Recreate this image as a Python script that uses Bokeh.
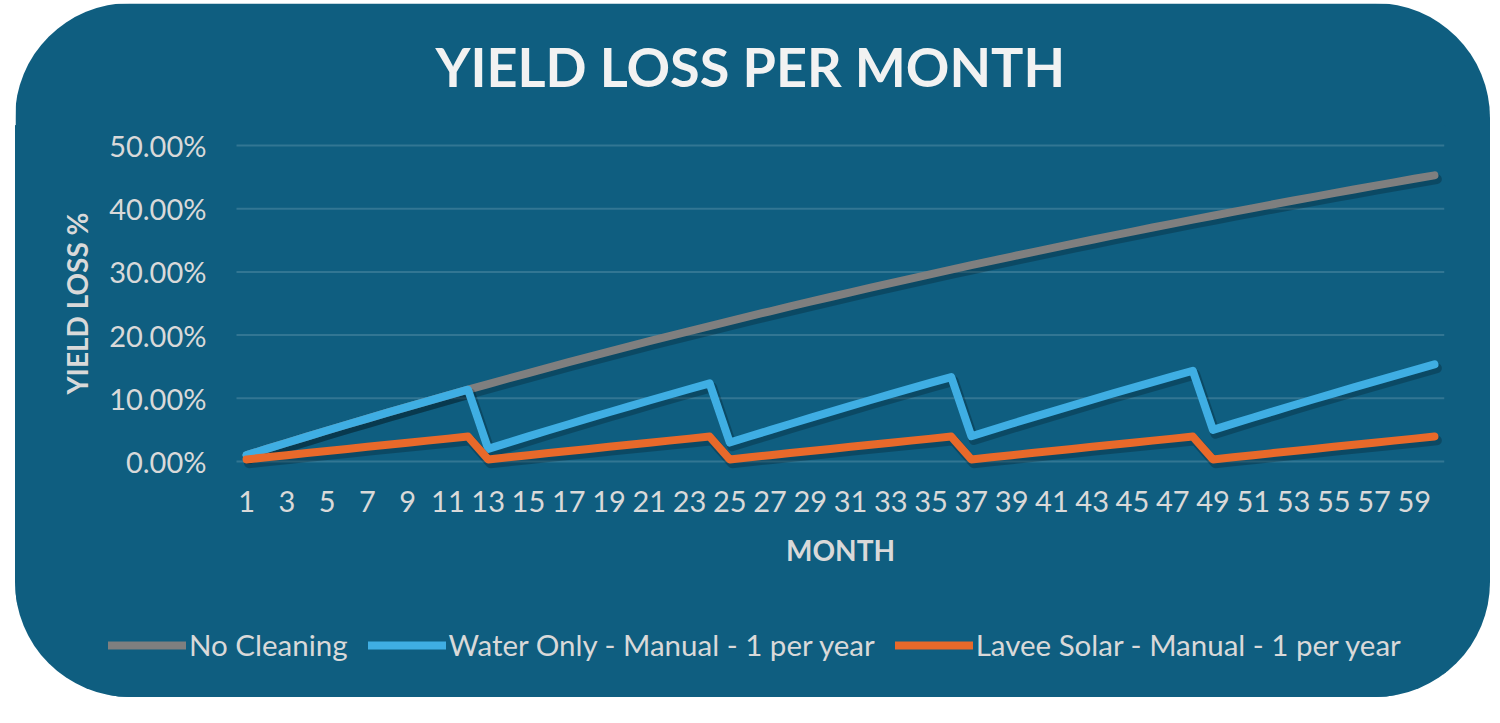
from bokeh.plotting import figure
from bokeh.models import (ColumnDataSource, FixedTicker, PrintfTickFormatter, Legend,
                          LegendItem, Title, Range1d)
from bokeh.embed import file_html
from bokeh.resources import INLINE

months = list(range(1, 61))
x_tick_labels = list(range(1, 61, 2))
y_ticks = [0, 10, 20, 30, 40, 50]

no_cleaning = [1.00, 1.99, 2.97, 3.94, 4.90, 5.85, 6.79, 7.73, 8.65, 9.56, 10.47, 11.36,
               12.25, 13.13, 13.99, 14.85, 15.71, 16.55, 17.38, 18.21, 19.03, 19.84, 20.64, 21.43,
               22.22, 23.00, 23.77, 24.53, 25.28, 26.03, 26.77, 27.50, 28.23, 28.94, 29.66, 30.36,
               31.06, 31.74, 32.43, 33.10, 33.77, 34.43, 35.09, 35.74, 36.38, 37.02, 37.65, 38.27,
               38.89, 39.50, 40.10, 40.70, 41.30, 41.88, 42.46, 43.04, 43.61, 44.17, 44.73, 45.28]

water_only = [1.00, 1.99, 2.97, 3.94, 4.90, 5.85, 6.79, 7.73, 8.65, 9.56, 10.47, 11.36,
              2.00, 2.99, 3.97, 4.94, 5.90, 6.85, 7.79, 8.73, 9.65, 10.56, 11.47, 12.36,
              3.00, 3.99, 4.97, 5.94, 6.90, 7.85, 8.79, 9.73, 10.65, 11.56, 12.47, 13.36,
              4.00, 4.99, 5.97, 6.94, 7.90, 8.85, 9.79, 10.73, 11.65, 12.56, 13.47, 14.36,
              5.00, 5.99, 6.97, 7.94, 8.90, 9.85, 10.79, 11.73, 12.65, 13.56, 14.47, 15.36]

lavee_solar = [0.33, 0.67, 1.00, 1.33, 1.66, 1.99, 2.32, 2.65, 2.97, 3.30, 3.62, 3.95,
               0.33, 0.67, 1.00, 1.33, 1.66, 1.99, 2.32, 2.65, 2.97, 3.30, 3.62, 3.95,
               0.33, 0.67, 1.00, 1.33, 1.66, 1.99, 2.32, 2.65, 2.97, 3.30, 3.62, 3.95,
               0.33, 0.67, 1.00, 1.33, 1.66, 1.99, 2.32, 2.65, 2.97, 3.30, 3.62, 3.95,
               0.33, 0.67, 1.00, 1.33, 1.66, 1.99, 2.32, 2.65, 2.97, 3.30, 3.62, 3.95]

series_names = ["No Cleaning", "Water Only - Manual - 1 per year", "Lavee Solar - Manual - 1 per year"]
series_colors = ["#7F7F7F", "#3FAEE3", "#E8692A"]

BG = "#0F5E80"
TXT = "#D9D9D9"
FONT = "Lato"

# layout (pixels inside the rounded card)
W, H = 1475, 694
TOP, RIGHT = 123, 46     # frame top / right border
PLOT_LEFT = 221          # where month 0.5 sits
PLOT_TOP = 142           # where 50 % sits
PLOT_H = 316             # pixels for 0 .. 50 %
x_lo, x_hi = months[0] - 0.5, months[-1] + 0.5
px_x = (W - RIGHT - PLOT_LEFT) / (x_hi - x_lo)
px_y = PLOT_H / (y_ticks[-1] - y_ticks[0])
y_top = y_ticks[-1] + (PLOT_TOP - TOP) / px_y
y_bot = y_ticks[0] - (H - PLOT_TOP - PLOT_H) / px_y

p = figure(width=W, height=H, output_backend="svg", toolbar_location=None,
           x_range=Range1d(x_lo - PLOT_LEFT / px_x, x_hi), y_range=Range1d(y_bot, y_top),
           min_border_left=0, min_border_right=RIGHT, min_border_top=TOP, min_border_bottom=0,
           background_fill_color=BG, border_fill_color=BG,
           outline_line_color=BG, outline_line_width=3)
p.styles = {"border-radius": "115px", "overflow": "hidden", "transform": "translate(15px, 3px)"}

p.title = Title(text="YIELD LOSS PER MONTH", align="left", offset=420, standoff=56,
                text_color="#F2F2F2", text_font=FONT, text_font_style="bold",
                text_font_size="54px")

p.xaxis.ticker = FixedTicker(ticks=x_tick_labels)
p.yaxis.ticker = FixedTicker(ticks=y_ticks)
p.yaxis.formatter = PrintfTickFormatter(format="%.2f%%")
p.xaxis.fixed_location = y_ticks[0]
p.yaxis.fixed_location = x_lo
p.xaxis.bounds = (x_lo, x_hi)
p.yaxis.bounds = (y_ticks[0], y_ticks[-1])
for ax in (p.xaxis[0], p.yaxis[0]):
    ax.axis_line_color = None
    ax.major_tick_line_color = None
    ax.minor_tick_line_color = None
    ax.major_tick_out = 0
    ax.major_tick_in = 0
    ax.major_label_text_color = TXT
    ax.major_label_text_font = FONT
    ax.major_label_text_font_size = "29px"
    ax.axis_label_text_color = TXT
    ax.axis_label_text_font = FONT
    ax.axis_label_text_font_style = "bold"
    ax.axis_label_text_font_size = "28px"
p.xaxis.axis_label = "MONTH"
p.yaxis.axis_label = "YIELD LOSS %"
p.xaxis.major_label_standoff = 29
p.xaxis.axis_label_standoff = 18
p.yaxis.major_label_standoff = 30
p.yaxis.axis_label_standoff = 12

p.grid.visible = False
n = len(y_ticks)
p.segment(x0=[x_lo] * n, y0=y_ticks, x1=[x_hi] * n, y1=y_ticks,
          line_color="#FFFFFF", line_alpha=0.15, line_width=2)

renderers = []
for vals, col in zip([no_cleaning, water_only, lavee_solar], series_colors):
    src = ColumnDataSource(dict(x=months, y=vals,
                                xs=[m + 0.12 for m in months], ys=[v - 0.6 for v in vals]))
    p.line("xs", "ys", source=src, line_color="#000000", line_alpha=0.22, line_width=10,
           line_join="round", line_cap="round")
    r = p.line("x", "y", source=src, line_color=col, line_width=8,
               line_join="round", line_cap="round")
    renderers.append(r)

legend = Legend(items=[LegendItem(label=nm, renderers=[r]) for nm, r in zip(series_names, renderers)],
                orientation="horizontal", location=(93, 35),
                background_fill_alpha=0, border_line_alpha=0,
                label_text_color=TXT, label_text_font=FONT, label_text_font_size="29.5px",
                glyph_width=78, glyph_height=30, label_standoff=3, spacing=20,
                padding=0, margin=0)
p.add_layout(legend, "center")

open("out.html", "w").write(file_html(p, INLINE))
